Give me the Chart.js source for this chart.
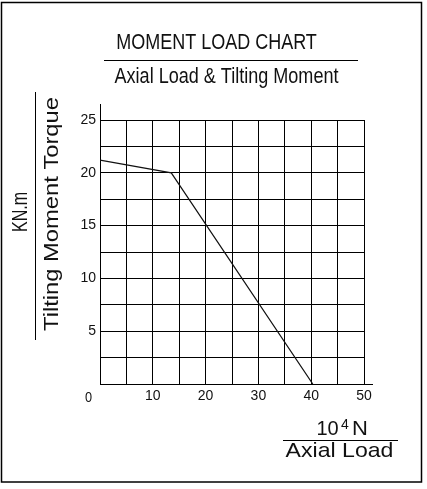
<!DOCTYPE html>
<html>
<head>
<meta charset="utf-8">
<script src="https://cdn.jsdelivr.net/npm/chart.js@4/dist/chart.umd.min.js"></script>
<style>
  html,body{margin:0;padding:0;background:#fff}
  canvas{display:block}
</style>
</head>
<body>
<canvas id="c" width="427" height="489"></canvas>
<script>
// chart data
const axialLoad  = [0, 13.5, 40.3];      // 10^4 N
const tiltMoment = [21.2, 20, 0];        // KN.m
const xLabelVals = [10, 20, 30, 40, 50];
const yLabelVals = [5, 10, 15, 20, 25];

const FONT = '"Liberation Sans", Arial, sans-serif';

function hline(ctx, x1, y1, x2, y2){
  ctx.beginPath(); ctx.moveTo(x1, y1); ctx.lineTo(x2, y2); ctx.stroke();
}

// text squeezed (or stretched) along its own direction
function text(ctx, str, x, y, size, sx, rot){
  ctx.save();
  ctx.translate(x, y);
  if (rot) ctx.rotate(rot);
  ctx.scale(sx, 1);
  ctx.font = size + 'px ' + FONT;
  ctx.fillText(str, 0, 0);
  ctx.restore();
}

// titles, axis captions, frame
const deco = {
  id: 'deco',
  afterDraw(chart){
    const ctx = chart.ctx;
    const xs = chart.scales.x, ys = chart.scales.y;
    const x0 = Math.round(xs.getPixelForValue(0)) + 0.5;
    const y0 = Math.round(ys.getPixelForValue(0)) + 0.5;
    const xEnd = xs.getPixelForValue(xs.max);
    const yTop = ys.getPixelForValue(ys.max);

    ctx.save();
    ctx.strokeStyle = '#000';
    ctx.fillStyle = '#111';
    ctx.lineWidth = 1;
    // axis lines run a bit past the grid
    hline(ctx, x0, yTop, x0, yTop - 16);
    hline(ctx, xEnd, y0, xEnd + 9, y0);

    // origin label
    ctx.textAlign = 'center';
    ctx.textBaseline = 'middle';
    text(ctx, '0', x0 - 12, y0 + 13, 15, 0.85);

    // frame
    ctx.lineWidth = 1.5;
    ctx.strokeRect(1.5, 2.5, 420, 479.5);

    // title block
    ctx.lineWidth = 1;
    ctx.textBaseline = 'alphabetic';
    text(ctx, 'MOMENT LOAD CHART', 216.5, 49, 22.5, 0.8);
    hline(ctx, 104, 60.5, 358, 60.5);
    text(ctx, 'Axial Load & Tilting Moment', 226.5, 83, 22, 0.82);

    // y caption
    text(ctx, 'KN.m', 27, 212, 22, 0.73, -Math.PI / 2);
    hline(ctx, 35.5, 92, 35.5, 340);
    text(ctx, 'Tilting Moment Torque', 58, 214, 21, 1.13, -Math.PI / 2);

    // x caption
    ctx.textAlign = 'left';
    text(ctx, '10', 316.5, 435, 20, 1);
    text(ctx, '4', 341, 429, 14, 1);
    text(ctx, 'N', 352, 435, 20, 1.1);
    hline(ctx, 283, 440.5, 398, 440.5);
    ctx.textAlign = 'center';
    text(ctx, 'Axial Load', 339.5, 457, 21, 1.1);
    ctx.restore();
  }
};

new Chart(document.getElementById('c'), {
  type: 'line',
  data: {
    datasets: [{
      data: axialLoad.map((x, i) => ({ x, y: tiltMoment[i] })),
      borderColor: '#111',
      borderWidth: 1.2,
      pointRadius: 0,
      fill: false,
      tension: 0
    }]
  },
  options: {
    responsive: false,
    animation: false,
    events: [],
    layout: { padding: { left: 70, right: 63, top: 120, bottom: 75 } },
    plugins: { legend: { display: false }, tooltip: { enabled: false } },
    scales: {
      x: {
        type: 'linear', min: 0, max: 50,
        afterFit: s => { s.height = 30; },
        grid: { color: '#000', lineWidth: 1, drawTicks: false },
        border: { color: '#000', width: 1 },
        ticks: {
          stepSize: 5, padding: 4, maxRotation: 0, autoSkip: false,
          color: '#111', font: { family: FONT, size: 14 },
          callback: v => xLabelVals.includes(v) ? String(v) : ''
        }
      },
      y: {
        type: 'linear', min: 0, max: 25,
        afterFit: s => { s.width = 30; },
        grid: { color: '#000', lineWidth: 1, drawTicks: false },
        border: { color: '#000', width: 1 },
        ticks: {
          stepSize: 2.5, padding: 4, autoSkip: false,
          color: '#111', font: { family: FONT, size: 14 },
          callback: v => yLabelVals.includes(v) ? String(v) : ''
        }
      }
    }
  },
  plugins: [deco]
});
</script>
</body>
</html>
